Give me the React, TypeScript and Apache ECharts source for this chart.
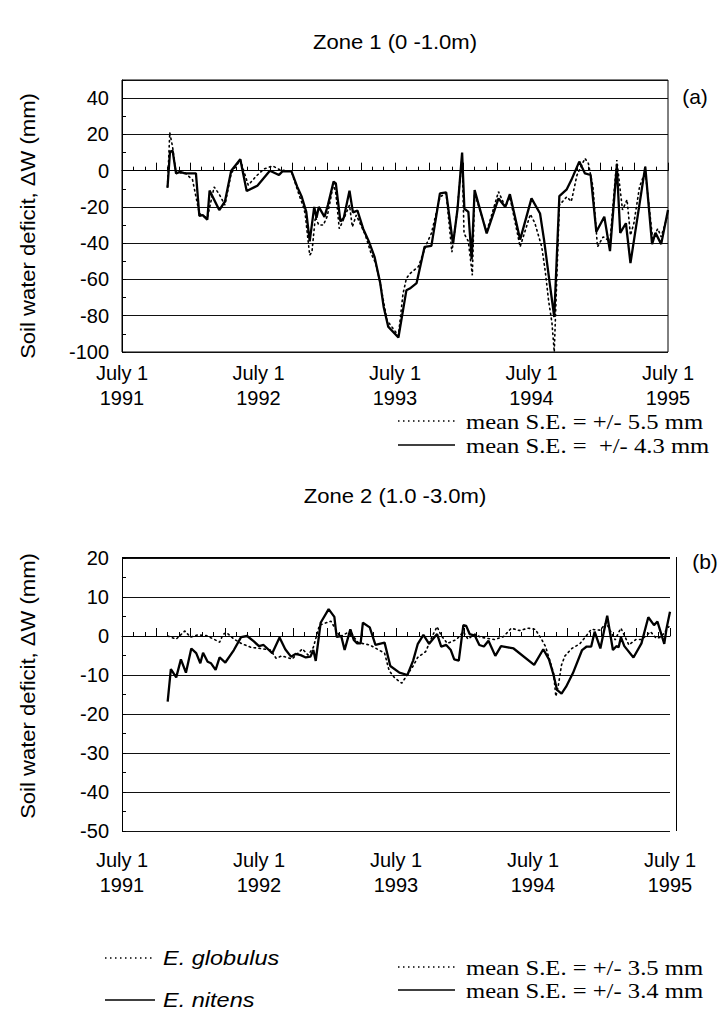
import React, { useEffect, useRef } from "react";
import * as echarts from "echarts";

// x values are months after July 1 1991
const zone1NitensMonth = [4.0, 4.22, 4.45, 4.75, 5.1, 5.54, 6.5, 6.8, 7.1, 7.5, 7.7, 8.55, 9.05, 9.6, 10.4, 10.96, 11.9, 13.0, 13.8, 14.1, 14.9, 15.4, 15.8, 16.2, 16.5, 16.9, 17.1, 17.3, 17.8, 18.1, 18.6, 18.8, 19.2, 19.5, 20.0, 20.3, 20.7, 21.2, 21.7, 22.2, 22.7, 23.0, 23.4, 24.3, 25.0, 25.3, 25.9, 26.6, 27.2, 27.95, 28.5, 29.1, 29.5, 29.9, 30.1, 30.45, 30.74, 31.0, 32.06, 33.1, 33.7, 34.1, 35.0, 36.0, 36.75, 37.1, 37.6, 38.0, 38.45, 39.1, 39.5, 40.2, 40.7, 41.2, 41.7, 42.4, 42.9, 43.5, 43.8, 44.3, 44.7, 46.0, 46.6, 46.9, 47.4, 48.0];
const zone1NitensValue = [-9.4, 10.5, 11, -1.5, -0.7, -1.5, -1.5, -25, -24.5, -27, -11, -21.7, -17, 0, 6.3, -11.2, -8.3, 0, -2.4, -0.4, -0.4, -8.8, -14.4, -22.7, -39, -20, -26, -20, -25.5, -19, -6, -7, -28, -26, -11, -23, -22, -32, -39, -47.5, -62, -75, -86, -92, -66, -65, -62, -42, -41.5, -12.5, -12, -40.5, -21, 10, -21, -22.7, -49, -10.7, -34.6, -15.3, -20, -13, -38, -15.3, -23.6, -38, -62, -80.7, -14, -10.3, -5.2, 5, -1.5, -2.4, -33.7, -25.4, -44.4, 2.6, -34.3, -29, -51, 2.2, -40.5, -34.3, -40.5, -21.7];

const zone1GlobulusMonth = [4.0, 4.2, 4.45, 4.75, 5.5, 6.2, 6.8, 7.1, 7.5, 8.1, 8.55, 9.05, 9.6, 10.4, 11.1, 11.8, 12.5, 13.25, 13.9, 14.9, 15.6, 15.9, 16.1, 16.5, 16.7, 17.0, 17.3, 17.7, 18.05, 18.6, 18.8, 19.1, 19.4, 20.0, 20.25, 20.6, 21.4, 21.9, 22.3, 22.7, 23.3, 24.3, 24.7, 25.0, 25.3, 26.05, 26.8, 27.2, 27.96, 28.5, 29.0, 29.4, 29.9, 30.07, 30.45, 30.8, 31.0, 32.06, 33.1, 33.7, 34.1, 35.0, 35.9, 36.3, 36.9, 37.2, 37.5, 37.8, 38.0, 38.45, 39.1, 39.5, 40.0, 40.7, 41.0, 41.4, 41.8, 42.3, 42.9, 43.5, 44.0, 44.4, 44.7, 45.0, 45.5, 46.0, 46.65, 47.1, 47.4, 47.9];
const zone1GlobulusValue = [-9, 21, 13, -1.5, -1, -5, -23.6, -25, -26, -9, -13, -19, -1.5, 6, -8, -3, 1, 2.6, 0.4, -0.5, -14, -19, -23.6, -46.6, -44.8, -25.4, -30, -30, -25, -7, -12.5, -32, -28, -19, -31, -24.5, -35.6, -45.7, -51, -62, -82.6, -91, -68, -59.5, -56.8, -53, -40, -34.6, -14.4, -12.5, -45, -26, 7.7, -34.6, -39, -57.7, -12.5, -33.7, -11.6, -20, -14.4, -42, -24, -29, -42, -55, -71.5, -84, -100, -19, -14.4, -17, -2.4, 6.8, 4, -8.8, -42, -36.5, -39, 5.9, -21.7, -16, -35.6, -29, -8.8, -0.5, -37.4, -32, -36.5, -26];

const zone2NitensMonth = [4.0, 4.28, 4.75, 5.16, 5.6, 6.07, 6.5, 6.86, 7.1, 7.5, 7.8, 8.2, 8.55, 9.05, 9.8, 10.43, 10.96, 11.55, 12.0, 12.4, 13.16, 13.8, 14.3, 14.8, 15.2, 15.65, 16.1, 16.5, 16.76, 16.97, 17.4, 18.1, 18.6, 18.8, 19.2, 19.5, 20.0, 20.3, 20.6, 20.9, 21.1, 21.7, 22.2, 23.0, 23.5, 24.3, 25.0, 25.5, 25.9, 26.4, 26.9, 27.4, 27.6, 27.96, 28.4, 28.8, 29.1, 29.5, 29.9, 30.15, 30.45, 30.9, 31.3, 31.7, 32.1, 32.7, 33.2, 33.8, 34.3, 36.1, 36.9, 37.4, 37.8, 38.1, 38.5, 38.9, 39.5, 40.3, 40.7, 41.1, 41.4, 41.9, 42.5, 43.0, 43.3, 43.5, 43.7, 44.0, 44.8, 45.5, 46.1, 46.6, 46.9, 47.5, 47.7, 48.0];
const zone2NitensValue = [-16.8, -8.5, -10.6, -6, -9.4, -3.2, -4.4, -7, -4.3, -6.6, -7, -8.7, -5.5, -6.8, -3.6, -0.3, 0, -1.4, -2.6, -2.3, -4.4, -0.4, -3.4, -5.3, -4.6, -4.9, -5.5, -5.3, -3.6, -6.4, 3.4, 6.9, 4.9, -0.2, 0, -3.6, 1.7, -1, -1.9, -1.9, 3.4, 2.2, -2.3, -1.7, -7.7, -9.4, -10, -6.3, -2.1, 0.3, -2, -0.2, 0.5, -2.7, -2.3, -3.6, -6, -6.3, 2.8, 2.6, 0.5, 0.1, -2.3, -2.7, -1.2, -5.1, -2.6, -2.9, -3.2, -7.4, -3.4, -6, -10, -13.8, -14.8, -13, -9.5, -3.6, -2.7, -2.7, 1.1, -3.2, 5.2, -3.6, -2.6, -2.9, -0.3, -2.6, -5.5, -1.9, 4.8, 2.8, 3.7, -2, 2, 6.2];

const zone2GlobulusMonth = [4.0, 4.75, 5.5, 6.0, 6.65, 7.4, 8.1, 8.55, 8.85, 9.15, 9.8, 10.5, 11.3, 12.1, 13.0, 13.5, 14.0, 14.9, 15.8, 16.3, 16.76, 17.3, 18.3, 19.1, 20.1, 20.2, 20.7, 21.7, 23.0, 23.4, 23.9, 24.5, 25.5, 25.9, 26.6, 27.2, 27.6, 27.96, 28.5, 29.3, 29.9, 30.3, 30.9, 31.4, 32.6, 33.4, 34.1, 34.8, 35.6, 36.2, 36.7, 37.1, 37.8, 38.0, 38.2, 38.5, 38.8, 39.4, 40.1, 40.6, 41.1, 41.9, 42.4, 43.2, 43.5, 43.7, 44.4, 45.0, 45.5, 46.3, 46.8, 47.2, 47.9];
const zone2GlobulusValue = [0, -0.8, 1.3, -0.3, 0.3, 0.1, -0.9, -1.6, 0.4, 0.9, -0.8, -2, -2.9, -3.2, -3.6, -5.7, -5.1, -5.9, -3.3, -4.9, -2.9, 2.8, 3.8, -0.2, 1.4, 0.1, -1.7, -2.3, -4.4, -8.9, -10.8, -12.1, -7.7, -5.5, -4, 0.1, 2.4, 0.1, -1.9, -0.9, 1.1, -0.8, 0.5, -0.3, -0.9, -0.2, 2, 1.4, 2, 1.7, -0.6, -2.7, -9.5, -15.5, -13, -7.4, -5.1, -3.2, -2, -0.2, 1.7, 1.5, 3.4, -1, 0.9, 2, -2.3, -0.9, -0.9, 1.1, -0.6, -0.3, 2.4];

const yearLabels = ["1991", "1992", "1993", "1994", "1995"];
const zone1Ticks = { min: -100, max: 50, interval: 20 };
const zone2Ticks = { min: -50, max: 20, interval: 10 };

const SANS = '"Liberation Sans", Arial, Helvetica, sans-serif';
const SERIF = '"Liberation Serif", "Times New Roman", Times, serif';

const pairs = (xs: number[], ys: number[]) => xs.map((x, i) => [x, ys[i]]);

function xAxisFor(gridIndex: number, margin: number) {
  return {
    type: "value",
    gridIndex,
    min: 0,
    max: 48,
    interval: 3,
    axisLine: { show: true, lineStyle: { color: "#000", width: 1 } },
    axisTick: { show: true, inside: true, length: 8, lineStyle: { color: "#000" } },
    minorTick: { show: true, splitNumber: 3, length: 4, lineStyle: { color: "#000" } },
    splitLine: { show: false },
    axisLabel: {
      margin,
      color: "#000",
      fontFamily: SANS,
      fontSize: 20,
      lineHeight: 25,
      formatter: (v: number) => (v % 12 === 0 ? "July 1\n" + yearLabels[v / 12] : ""),
    },
  };
}

function yAxisFor(gridIndex: number, t: { min: number; max: number; interval: number }) {
  return {
    type: "value",
    gridIndex,
    min: t.min,
    max: t.max,
    interval: t.interval,
    axisLine: { show: true, lineStyle: { color: "#000", width: 1 } },
    axisTick: { show: true, inside: true, length: 4, lineStyle: { color: "#000" } },
    minorTick: { show: true, splitNumber: 2, length: 4, lineStyle: { color: "#000" } },
    splitLine: { show: true, lineStyle: { color: "#111", width: 1 } },
    axisLabel: {
      margin: 13,
      color: "#000",
      fontFamily: SANS,
      fontSize: 20,
      formatter: (v: number) => ((v - t.min) % t.interval !== 0 ? "" : String(v)),
    },
  };
}

const solidStyle = { color: "#000", width: 2.3, type: "solid" };
const dottedStyle = { color: "#000", width: 1.6, type: [1.5, 3.5], cap: "round" };

function legendLine(x1: number, x2: number, y: number, dotted: boolean) {
  return {
    type: "line",
    shape: { x1, y1: y, x2, y2: y },
    style: dotted
      ? { stroke: "#000", lineWidth: 1.4, lineDash: [1.5, 3.5] }
      : { stroke: "#000", lineWidth: 1.6 },
  };
}

function txt(text: string, x: number, y: number, font: string, align = "left", extra: any = {}) {
  return {
    type: "text",
    x,
    y,
    ...extra,
    style: {
      text,
      font,
      fill: "#000",
      align,
      textAlign: align,
      verticalAlign: "middle",
      textVerticalAlign: "middle",
    },
  };
}

export default function App() {
  const ref = useRef<HTMLDivElement>(null);
  useEffect(() => {
    if (!ref.current) return;
    const chart = echarts.init(ref.current, null, { renderer: "svg" });
    const yTitle = "Soil water deficit, \u0394W (mm)";
    const wide = { scaleX: 1.12 };
    chart.setOption({
      animation: false,
      backgroundColor: "#fff",
      grid: [
        { left: 122, top: 80, width: 546, height: 272, show: true, borderColor: "#000", borderWidth: 1 },
        { left: 122, top: 558, width: 548, height: 273, show: false },
      ],
      xAxis: [xAxisFor(0, 8), xAxisFor(1, 16)],
      yAxis: [yAxisFor(0, zone1Ticks), yAxisFor(1, zone2Ticks)],
      series: [
        { name: "E. globulus", type: "line", xAxisIndex: 0, yAxisIndex: 0, data: pairs(zone1GlobulusMonth, zone1GlobulusValue), symbol: "none", lineStyle: dottedStyle },
        { name: "E. nitens", type: "line", xAxisIndex: 0, yAxisIndex: 0, data: pairs(zone1NitensMonth, zone1NitensValue), symbol: "none", lineStyle: solidStyle },
        { name: "E. globulus", type: "line", xAxisIndex: 1, yAxisIndex: 1, data: pairs(zone2GlobulusMonth, zone2GlobulusValue), symbol: "none", lineStyle: dottedStyle },
        { name: "E. nitens", type: "line", xAxisIndex: 1, yAxisIndex: 1, data: pairs(zone2NitensMonth, zone2NitensValue), symbol: "none", lineStyle: solidStyle },
      ],
      graphic: [
        txt("Zone 1 (0 -1.0m)", 395, 42, `21px ${SANS}`, "center", { scaleX: 1.05 }),
        txt("(a)", 695, 96, `21px ${SANS}`, "center"),
        txt(yTitle, 28, 226, `21px ${SANS}`, "center", { rotation: Math.PI / 2, scaleX: 1.05 }),
        legendLine(398, 455, 421, true),
        txt("mean S.E. = +/- 5.5 mm", 466, 421, `22px ${SERIF}`, "left", wide),
        legendLine(398, 455, 445, false),
        txt("mean S.E. =  +/- 4.3 mm", 466, 445, `22px ${SERIF}`, "left", wide),
        txt("Zone 2 (1.0 -3.0m)", 395, 496, `21px ${SANS}`, "center", { scaleX: 1.05 }),
        txt("(b)", 705, 561, `21px ${SANS}`, "center"),
        txt(yTitle, 28, 686, `21px ${SANS}`, "center", { rotation: Math.PI / 2, scaleX: 1.05 }),
        { type: "line", shape: { x1: 676.5, y1: 557, x2: 676.5, y2: 831 }, style: { stroke: "#000", lineWidth: 1 } },
        { type: "line", shape: { x1: 122, y1: 557.5, x2: 670, y2: 557.5 }, style: { stroke: "#000", lineWidth: 1 } },
        legendLine(105, 155, 958, true),
        txt("E. globulus", 163, 958, `italic 21px ${SANS}`, "left", wide),
        legendLine(105, 155, 1000, false),
        txt("E. nitens", 163, 1000, `italic 21px ${SANS}`, "left", wide),
        legendLine(398, 455, 967, true),
        txt("mean S.E. = +/- 3.5 mm", 466, 967, `22px ${SERIF}`, "left", wide),
        legendLine(398, 455, 990, false),
        txt("mean S.E. = +/- 3.4 mm", 466, 990, `22px ${SERIF}`, "left", wide),
      ],
    });
    return () => chart.dispose();
  }, []);
  return <div ref={ref} style={{ position: "absolute", left: 0, top: 0, width: 723, height: 1014 }} />;
}
